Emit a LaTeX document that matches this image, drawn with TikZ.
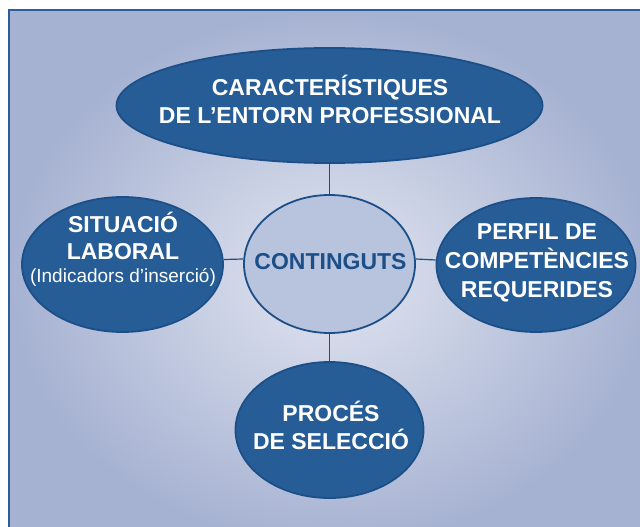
\documentclass[tikz,border=0pt]{standalone}
\usepackage{fontspec}
\setmainfont{Liberation Sans}
\usetikzlibrary{shapes.geometric}

\definecolor{fonsfora}{HTML}{A6B2D2}
\definecolor{fonsdins}{HTML}{E1E5F0}
\definecolor{blaufosc}{HTML}{265D96}
\definecolor{blauvora}{HTML}{1C4F88}
\definecolor{blauclar}{HTML}{B8C3DE}
\definecolor{marc}{HTML}{2D5D9C}

\begin{document}
\begin{tikzpicture}[x=1pt, y=-1pt,
    bloc/.style={ellipse, draw=blauvora, line width=1.8pt, fill=blaufosc, inner sep=0pt},
    centre/.style={ellipse, draw=blauvora, line width=1.8pt, fill=blauclar, inner sep=0pt},
    rotul/.style={anchor=base, align=center, text=white, font=\fontsize{23}{28}\selectfont\bfseries},
    enllac/.style={draw=blauvora, line width=1.2pt}]
        \clip (0, 0) rectangle (640, 527);

        %background
        \fill[white] (0, 0) rectangle (640, 527);
        \shade[inner color=fonsdins, outer color=fonsfora] (9, 10) rectangle (652, 545);
        \draw[marc, line width=1.5pt] (9, 10) rectangle (652, 545);

        %nodes
        \node[bloc, minimum width=426pt, minimum height=115pt] (entorn) at (329.5, 105.5) {};
        \node[centre, minimum width=171pt, minimum height=138pt] (contingut) at (329.5, 264) {};
        \node[bloc, minimum width=201pt, minimum height=135pt] (situacio) at (122.5, 264.5) {};
        \node[bloc, minimum width=199pt, minimum height=134pt] (perfil) at (536, 265) {};
        \node[bloc, minimum width=188pt, minimum height=136pt] (proces) at (329.5, 430) {};

        %labels (base = last line)
        \node[rotul] (entornT) at (330, 123) {CARACTERÍSTIQUES\\DE L’ENTORN PROFESSIONAL};
        \node[rotul, text=blauvora] (contingutT) at (330.5, 269) {CONTINGUTS};
        \node[rotul, font=\fontsize{23}{27}\selectfont\bfseries] (situacioT) at (123, 282)
            {SITUACIÓ\\LABORAL\\[-4pt]{\fontsize{19}{23}\selectfont\mdseries (Indicadors d’inserció)}};
        \node[rotul, font=\fontsize{23}{29}\selectfont\bfseries] (perfilT) at (537, 297) {PERFIL DE\\COMPETÈNCIES\\REQUERIDES};
        \node[rotul] (procesT) at (331, 449) {PROCÉS\\DE SELECCIÓ};

        %edges
        \draw[enllac] (entorn) -- (contingut);
        \draw[enllac] (contingut) -- (proces);
        \draw[enllac] ([yshift=5pt]situacio.east) -- ([yshift=5pt]contingut.west);
        \draw[enllac] ([yshift=5pt]contingut.east) -- ([yshift=5pt]perfil.west);
\end{tikzpicture}
\end{document}
